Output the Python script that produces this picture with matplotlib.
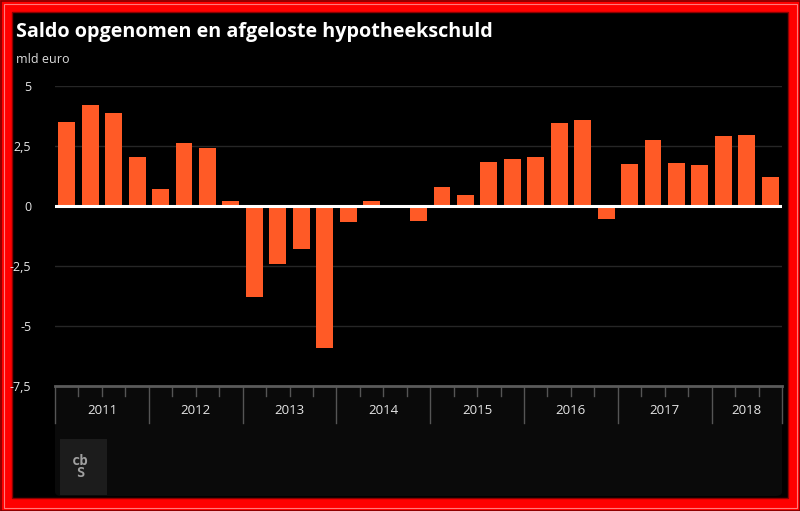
import matplotlib
matplotlib.use('Agg')
import matplotlib.pyplot as plt
from matplotlib.patches import Rectangle, FancyBboxPatch
import matplotlib.transforms as mtransforms

# data, kwartaalcijfers 2011 K1 - 2018 K3 (mld euro)
years = ['2011', '2012', '2013', '2014', '2015', '2016', '2017', '2018']
quarters_per_year = [4, 4, 4, 4, 4, 4, 4, 3]
values = [3.47, 4.19, 3.85, 2.04, 0.68, 2.63, 2.39, 0.21,
          -3.79, -2.43, -1.80, -5.92, -0.67, 0.21, 0.03, -0.65,
          0.77, 0.43, 1.82, 1.96, 2.02, 3.43, 3.57, -0.57,
          1.72, 2.72, 1.78, 1.68, 2.90, 2.96, 1.21]
yticks = [5, 2.5, 0, -2.5, -5, -7.5]
ytick_labels = ['5', '2,5', '0', '-2,5', '-5', '-7,5']

W, H = 800, 511
BAR = '#ff5a26'

plt.rcParams['font.family'] = ['Open Sans', 'DejaVu Sans']

fig = plt.figure(figsize=(W / 100, H / 100), dpi=100, facecolor='#ff0000')


def fx(x):
    return x / W


def fy(y):
    return 1 - y / H


def rect(x0, y0, x1, y1, z=-5, **kw):
    # rectangle in pixel coords (top-left origin)
    return Rectangle((fx(x0), fy(y1)), (x1 - x0) / W, (y1 - y0) / H,
                     transform=fig.transFigure, zorder=z, **kw)


# frame
fig.patches.append(rect(0.5, 0.5, 799.5, 510.5, fill=False, edgecolor='#7a0000', lw=1.2))
fig.patches.append(rect(3.5, 3.5, 796.5, 507.5, fill=False, edgecolor='#ff7a7a', lw=0.8))
fig.patches.append(rect(12, 12, 788, 498, facecolor='black', edgecolor='#8a0000', lw=1))
# x axis band
band = FancyBboxPatch((fx(55), fy(496)), 727 / W, 111 / H, transform=fig.transFigure,
                      boxstyle='round,pad=0,rounding_size=0.008',
                      facecolor='#0a0a0a', edgecolor='none', zorder=-4)
fig.patches.append(band)
# logo
fig.patches.append(rect(60, 439, 107, 495, z=-3, facecolor='#1c1c1c', edgecolor='none'))
fig.text(fx(80), fy(467), 'cb\nS', color='#a0a0a0', fontsize=10, ha='center', va='center',
         family='DejaVu Sans Mono', weight='bold', linespacing=0.8)

fig.text(fx(16), fy(32), 'Saldo opgenomen en afgeloste hypotheekschuld', color='white',
         fontsize=14.2, weight='bold', va='center', ha='left')
fig.text(fx(16), fy(59), 'mld euro', color='#dddddd', fontsize=9, va='center', ha='left')

ax = fig.add_axes([fx(55), fy(385.7), 727 / W, 300 / H])
ax.set_zorder(5)
ax.set_facecolor('none')
x = list(range(len(values)))
ax.bar(x, values, width=0.72, color=BAR, zorder=2)
ax.set_xlim(-0.5, len(values) - 0.5)
ax.set_ylim(-7.5, 5)

for t in yticks[:-1]:
    ax.axhline(t, color='#262626', lw=1, zorder=1)
ax.axhline(0, color='white', lw=2.2, zorder=3)
ax.axhline(-7.5, color='#5a5a5a', lw=2, zorder=3, clip_on=False)

ax.set_yticks(yticks)
ax.set_yticklabels(ytick_labels, color='#e6e6e6', fontsize=9)
ax.tick_params(axis='y', length=0, pad=17)
ax.set_xticks([])
for s in ax.spines.values():
    s.set_visible(False)

# quarter and year separators below the axis
trans = mtransforms.blended_transform_factory(ax.transData, fig.transFigure)
pos = -0.5
bounds = [pos]
for yr, n in zip(years, quarters_per_year):
    for q in range(1, n):
        ax.plot([pos + q, pos + q], [fy(386), fy(396)], color='#555555', lw=1,
                transform=trans, clip_on=False)
    ax.text(pos + n / 2, fy(410), yr, color='#e6e6e6', fontsize=9.5, ha='center', va='center',
            transform=trans)
    pos += n
    bounds.append(pos)
for b in bounds:
    ax.plot([b, b], [fy(386), fy(423)], color='#555555', lw=1, transform=trans, clip_on=False)

fig.savefig('out.png', dpi=100, facecolor=fig.get_facecolor())
